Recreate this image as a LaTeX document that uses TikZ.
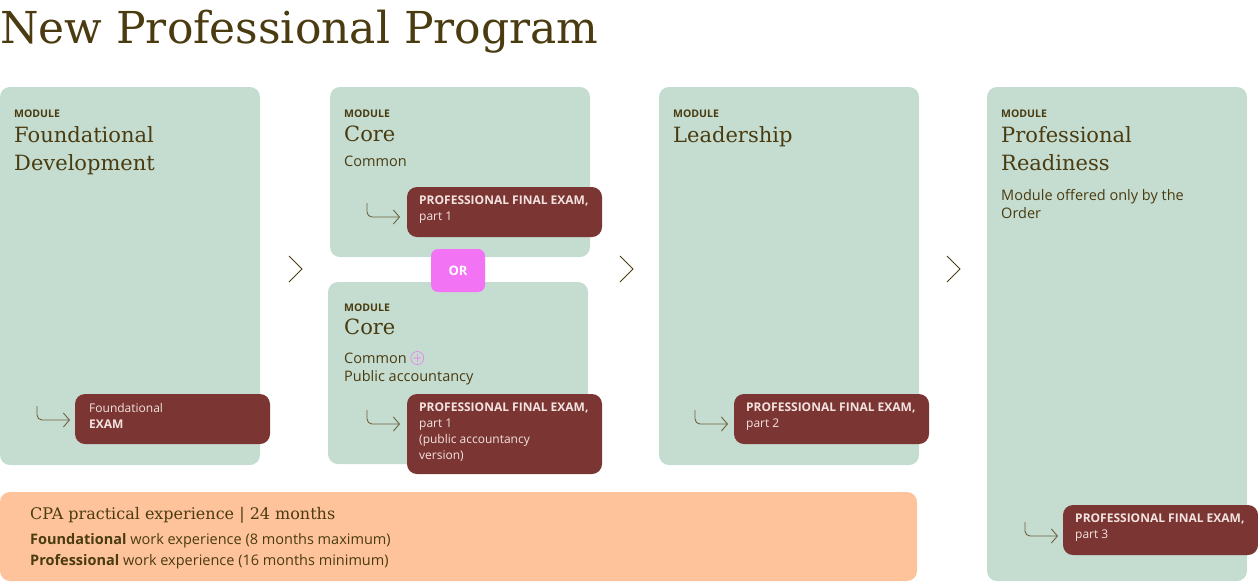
\documentclass[tikz,border=0pt]{standalone}
\usepackage{fontspec}
\usetikzlibrary{arrows.meta}
\setmainfont{DejaVu Serif}
\setsansfont{Open Sans}
\begin{document}
\definecolor{grn}{HTML}{C4DDD0}
\definecolor{brn}{HTML}{4A3B10}
\definecolor{exm}{HTML}{7B3633}
\definecolor{org}{HTML}{FFC39B}
\definecolor{pnk}{HTML}{F373F5}
\definecolor{wtx}{HTML}{F3E3E0}
\begin{tikzpicture}[x=1pt,y=-1pt,
  mod/.style={fill=grn,rounded corners=10pt},
  exam/.style={fill=exm,rounded corners=10pt},
  lbl/.style={anchor=north west,inner sep=0pt,text=brn,font=\sffamily\bfseries\fontsize{10.5}{12}\selectfont},
  ttl/.style={anchor=north west,inner sep=0pt,text=brn,align=left,font=\fontsize{21}{28}\selectfont},
  body/.style={anchor=north west,inner sep=0pt,text=brn,align=left,font=\sffamily\fontsize{14.5}{18}\selectfont},
  etx/.style={anchor=north west,inner sep=0pt,text=wtx,align=left,font=\sffamily\fontsize{12}{16}\selectfont},
  hook/.style={draw=brn!80,line width=0.9pt,-{Straight Barb[length=6pt,width=14pt]}},
  chev/.style={draw=brn,line width=0.8pt}]
\useasboundingbox (0,0) rectangle (1258,582);
\node[anchor=base west,inner sep=0pt,text=brn,font=\fontsize{44}{50}\selectfont] (title) at (0,43) {New Professional Program};
% boxes
\fill[mod] (0,87) rectangle (260,465);
\fill[mod] (330,87) rectangle (590,257);
\fill[mod] (328,282) rectangle (588,464);
\fill[mod] (659,87) rectangle (919,465);
\fill[mod] (987,87) rectangle (1247,581);
\fill[org,rounded corners=10pt] (0,492) rectangle (917,581);
% module 1
\node[lbl] (m1l) at (14,110) {MODULE};
\node[ttl] (m1t) at (14,126) {Foundational\\Development};
% module 2a
\node[lbl] (m2l) at (344,110) {MODULE};
\node[ttl] (m2t) at (344,126) {Core};
\node[body] (m2b) at (344,156) {Common};
% module 2b
\node[lbl] (m2bl) at (344,304) {MODULE};
\node[ttl] (m2bt) at (344,319) {Core};
\node[body] (m2bb) at (344,351) {Common \raisebox{-1pt}{\tikz[x=1pt,y=1pt]{\draw[pnk,line width=0.6pt] (0,0) circle (6.5) (-4,0)--(4,0) (0,-4)--(0,4);}}\\Public accountancy};
% module 3
\node[lbl] (m3l) at (673,110) {MODULE};
\node[ttl] (m3t) at (673,126) {Leadership};
% module 4
\node[lbl] (m4l) at (1001,110) {MODULE};
\node[ttl] (m4t) at (1001,126) {Professional\\Readiness};
\node[body] (m4b) at (1001,189) {Module offered only by the\\Order};
% OR
\node[fill=pnk,rounded corners=7pt,minimum width=54pt,minimum height=43pt,inner sep=0pt,text=white,font=\sffamily\bfseries\fontsize{13}{15}\selectfont] (or) at (458,270.5) {OR};
% exams
\fill[exam] (75,394) rectangle (270,444);
\node[etx] (e1) at (89,403) {Foundational\\\textbf{EXAM}};
\fill[exam] (407,187) rectangle (602,237);
\node[etx] (e2) at (419,196) {\textbf{PROFESSIONAL FINAL EXAM,}\\part 1};
\fill[exam] (407,394) rectangle (602,474);
\node[etx] (e3) at (419,403) {\textbf{PROFESSIONAL FINAL EXAM,}\\part 1\\(public accountancy\\version)};
\fill[exam] (734,394) rectangle (929,444);
\node[etx] (e4) at (746,403) {\textbf{PROFESSIONAL FINAL EXAM,}\\part 2};
\fill[exam] (1063,505) rectangle (1258,555);
\node[etx] (e5) at (1075,514) {\textbf{PROFESSIONAL FINAL EXAM,}\\part 3};
% hooks
\foreach \x/\y in {37/406,367/203,367/410,695/410,1025/522}{
  \draw[hook] (\x,\y) -- (\x,\y+9) to[out=-90,in=180] (\x+5,\y+14) -- (\x+33,\y+14);
}
% chevrons
\foreach \x in {289,620,947}{
  \draw[chev] (\x,256) -- (\x+13,269) -- (\x,282);
}
% experience
\node[anchor=north west,inner sep=0pt,text=brn,font=\fontsize{16}{20}\selectfont] (cpa) at (30,507) {CPA practical experience | 24 months};
\node[body] (w1) at (30,533) {\textbf{Foundational} work experience (8 months maximum)};
\node[body] (w2) at (30,554) {\textbf{Professional} work experience (16 months minimum)};
\end{tikzpicture}
\end{document}
